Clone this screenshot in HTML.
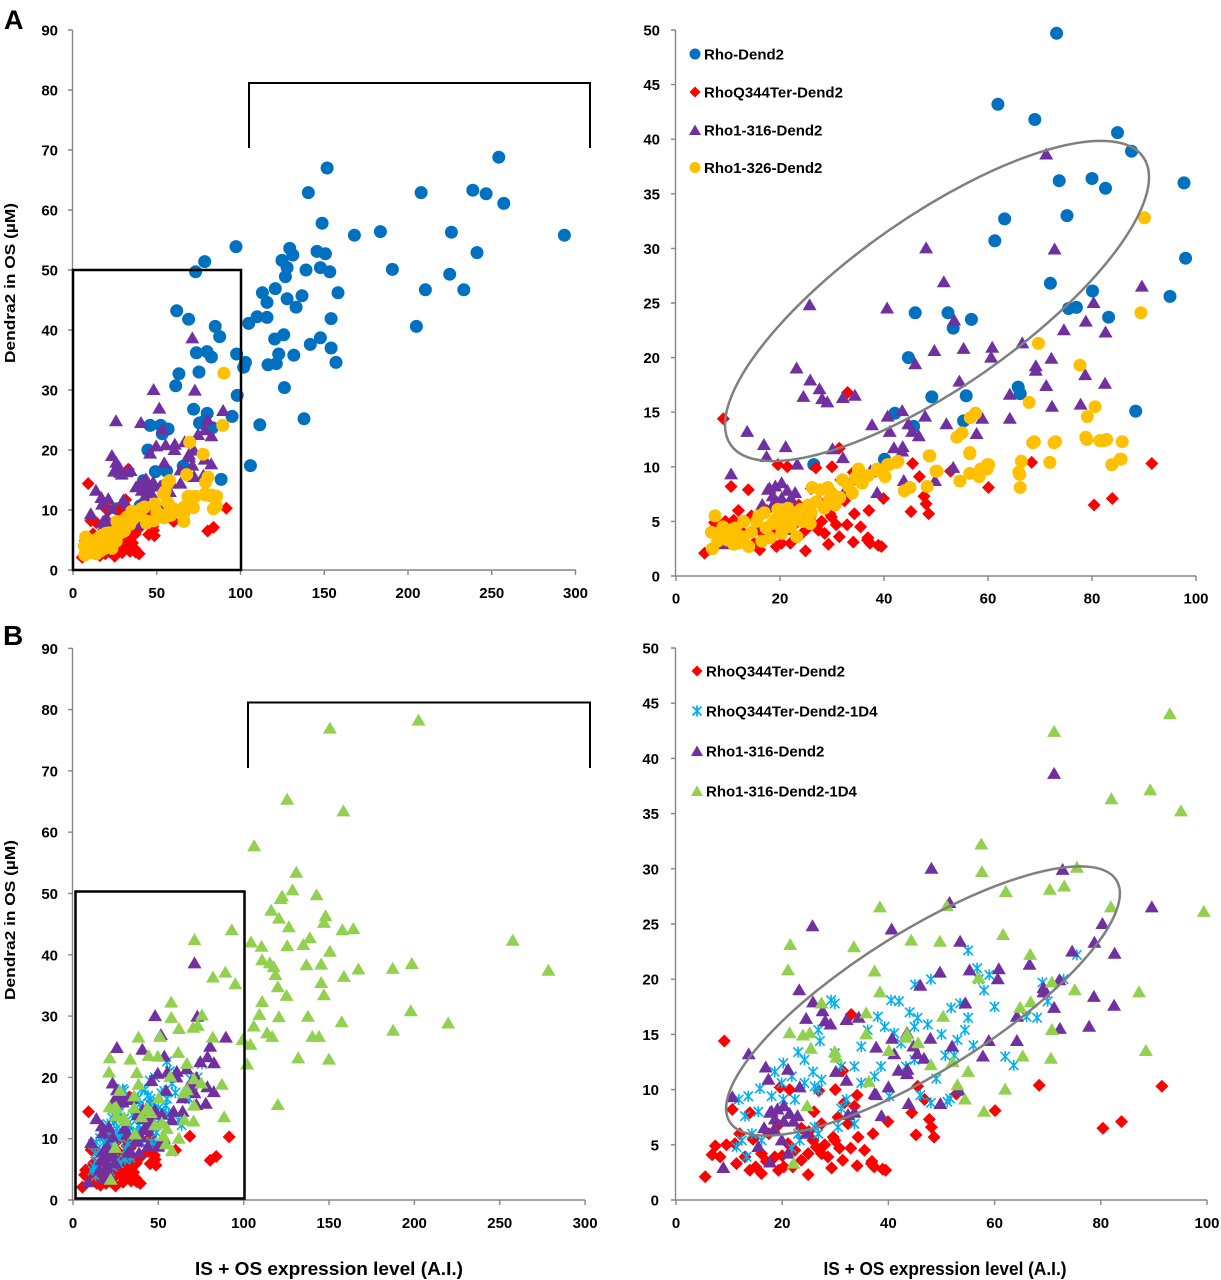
<!DOCTYPE html>
<html><head><meta charset="utf-8">
<style>
html,body{margin:0;padding:0;background:#fff;}
svg{display:block;}
text{font-family:"Liberation Sans",sans-serif;font-weight:bold;fill:#000;}
.t{font-size:15px;}
.ax{stroke:#868686;stroke-width:1.4;fill:none;}
</style></head>
<body>
<svg id="s" width="1221" height="1280" viewBox="0 0 1221 1280" xmlns="http://www.w3.org/2000/svg">
<rect width="1221" height="1280" fill="#fff"/>
<text x="4" y="29" style="font-size:27px">A</text>
<text x="3" y="645" style="font-size:28px">B</text>
<text transform="translate(15,283) rotate(-90)" text-anchor="middle" style="font-size:15px" textLength="160" lengthAdjust="spacingAndGlyphs">Dendra2 in OS (µM)</text>
<text transform="translate(15,920) rotate(-90)" text-anchor="middle" style="font-size:15px" textLength="160" lengthAdjust="spacingAndGlyphs">Dendra2 in OS (µM)</text>
<text x="329" y="1275" text-anchor="middle" style="font-size:18px" textLength="268" lengthAdjust="spacingAndGlyphs">IS + OS expression level (A.I.)</text>
<text x="945" y="1275" text-anchor="middle" style="font-size:18px" textLength="243" lengthAdjust="spacingAndGlyphs">IS + OS expression level (A.I.)</text>

<path class="ax" d="M72.5 30V570H576"/>
<path class="ax" d="M68 570H72.5M68 510H72.5M68 450H72.5M68 390H72.5M68 330H72.5M68 270H72.5M68 210H72.5M68 150H72.5M68 90H72.5M68 30H72.5M73 570V575M156.75 570V575M240.5 570V575M324.25 570V575M408 570V575M491.75 570V575M575.5 570V575"/>
<g class="t" text-anchor="end">
<text x="58" y="575.5">0</text><text x="58" y="515.5">10</text><text x="58" y="455.5">20</text><text x="58" y="395.5">30</text><text x="58" y="335.5">40</text><text x="58" y="275.5">50</text><text x="58" y="215.5">60</text><text x="58" y="155.5">70</text><text x="58" y="95.5">80</text><text x="58" y="35.5">90</text>
</g>
<g class="t" text-anchor="middle">
<text x="73" y="598">0</text><text x="156.75" y="598">50</text><text x="240.5" y="598">100</text><text x="324.25" y="598">150</text><text x="408" y="598">200</text><text x="491.75" y="598">250</text><text x="575.5" y="598">300</text>
</g>

<path class="ax" d="M675.5 30V576H1196"/>
<path class="ax" d="M671 576H675.5M671 521.4H675.5M671 466.8H675.5M671 412.2H675.5M671 357.6H675.5M671 303H675.5M671 248.4H675.5M671 193.8H675.5M671 139.2H675.5M671 84.6H675.5M671 30H675.5M676 576V581M780 576V581M884 576V581M988 576V581M1092 576V581M1196 576V581"/>
<g class="t" text-anchor="end">
<text x="660" y="581.5">0</text><text x="660" y="526.9">5</text><text x="660" y="472.3">10</text><text x="660" y="417.7">15</text><text x="660" y="363.1">20</text><text x="660" y="308.5">25</text><text x="660" y="253.9">30</text><text x="660" y="199.3">35</text><text x="660" y="144.7">40</text><text x="660" y="90.1">45</text><text x="660" y="35.5">50</text>
</g>
<g class="t" text-anchor="middle">
<text x="676" y="603.5">0</text><text x="780" y="603.5">20</text><text x="884" y="603.5">40</text><text x="988" y="603.5">60</text><text x="1092" y="603.5">80</text><text x="1196" y="603.5">100</text>
</g>

<path class="ax" d="M72.5 648.3V1200H585"/>
<path class="ax" d="M68 1200H72.5M68 1138.7H72.5M68 1077.4H72.5M68 1016.1H72.5M68 954.8H72.5M68 893.5H72.5M68 832.2H72.5M68 770.9H72.5M68 709.6H72.5M68 648.3H72.5M73 1200V1205M158.35 1200V1205M243.7 1200V1205M329.05 1200V1205M414.4 1200V1205M499.75 1200V1205M585.1 1200V1205"/>
<g class="t" text-anchor="end">
<text x="58" y="1205.5">0</text><text x="58" y="1144.2">10</text><text x="58" y="1082.9">20</text><text x="58" y="1021.6">30</text><text x="58" y="960.3">40</text><text x="58" y="899">50</text><text x="58" y="837.7">60</text><text x="58" y="776.4">70</text><text x="58" y="715.1">80</text><text x="58" y="653.8">90</text>
</g>
<g class="t" text-anchor="middle">
<text x="73" y="1228">0</text><text x="158.35" y="1228">50</text><text x="243.7" y="1228">100</text><text x="329.05" y="1228">150</text><text x="414.4" y="1228">200</text><text x="499.75" y="1228">250</text><text x="585.1" y="1228">300</text>
</g>

<path class="ax" d="M675.5 648V1200H1207"/>
<path class="ax" d="M671 1200H675.5M671 1144.8H675.5M671 1089.6H675.5M671 1034.4H675.5M671 979.2H675.5M671 924H675.5M671 868.8H675.5M671 813.6H675.5M671 758.4H675.5M671 703.2H675.5M671 648H675.5M676 1200V1205M782.2 1200V1205M888.4 1200V1205M994.6 1200V1205M1100.8 1200V1205M1207 1200V1205"/>
<g class="t" text-anchor="end">
<text x="659" y="1205.5">0</text><text x="659" y="1150.3">5</text><text x="659" y="1095.1">10</text><text x="659" y="1039.9">15</text><text x="659" y="984.7">20</text><text x="659" y="929.5">25</text><text x="659" y="874.3">30</text><text x="659" y="819.1">35</text><text x="659" y="763.9">40</text><text x="659" y="708.7">45</text><text x="659" y="653.5">50</text>
</g>
<g class="t" text-anchor="middle">
<text x="676" y="1228">0</text><text x="782.2" y="1228">20</text><text x="888.4" y="1228">40</text><text x="994.6" y="1228">60</text><text x="1100.8" y="1228">80</text><text x="1207" y="1228">100</text>
</g>

<g id="m"></g>

<rect x="73" y="270" width="168" height="300" fill="none" stroke="#000" stroke-width="2.5"/>
<path d="M249 148V83H590V148" fill="none" stroke="#000" stroke-width="2"/>
<rect x="75.5" y="891.5" width="169" height="307" fill="none" stroke="#000" stroke-width="2.5"/>
<path d="M248 768V702.5H590V768" fill="none" stroke="#000" stroke-width="2"/>
<ellipse cx="937" cy="301" rx="251.5" ry="85.5" transform="rotate(-34.9 937 301)" fill="none" stroke="#7f7f7f" stroke-width="2.5"/>
<ellipse cx="923" cy="1001" rx="228" ry="70" transform="rotate(-32 923 1001)" fill="none" stroke="#7f7f7f" stroke-width="2.5"/>

<circle cx="695" cy="54" r="5.5" fill="#0070C0"/>
<path d="M695 86.5L700.5 92L695 97.5L689.5 92Z" fill="#FF0000"/>
<path d="M695 124.5L701 135L689 135Z" fill="#7030A0"/>
<circle cx="695" cy="167.5" r="5.5" fill="#FFC000"/>
<g style="font-size:15px">
<text x="704" y="59.5">Rho-Dend2</text>
<text x="704" y="97.5">RhoQ344Ter-Dend2</text>
<text x="704" y="135.5">Rho1-316-Dend2</text>
<text x="704" y="173">Rho1-326-Dend2</text>
</g>
<path d="M697 665.5L702.5 671L697 676.5L691.5 671Z" fill="#FF0000"/>
<path d="M697 705.5V716.5M692.5 706.5L701.5 715.5M701.5 706.5L692.5 715.5" stroke="#00B0F0" stroke-width="1.8" fill="none"/>
<path d="M697 745.5L703 756L691 756Z" fill="#7030A0"/>
<path d="M697 785.5L703 796L691 796Z" fill="#92D050"/>
<g style="font-size:15px">
<text x="706" y="676.5">RhoQ344Ter-Dend2</text>
<text x="706" y="716.5">RhoQ344Ter-Dend2-1D4</text>
<text x="706" y="756.5">Rho1-316-Dend2</text>
<text x="706" y="796.5">Rho1-316-Dend2-1D4</text>
</g>
</svg>
<script>
(function(){
var blueR=[[73.2,49.7],[61.9,43.2],[69.0,41.8],[84.9,40.6],[87.6,38.9],[73.7,36.2],[80.0,36.4],[82.6,35.5],[97.7,36.0],[63.2,32.7],[75.2,33.0],[61.3,30.7],[98.0,29.1],[72.0,26.8],[80.1,26.1],[95.0,25.6],[75.5,24.5],[77.0,24.6],[83.2,23.7],[46.0,24.1],[52.3,24.1],[56.8,23.5],[53.3,22.7],[44.7,20.0],[65.8,17.3],[66.2,16.7],[49.2,16.4],[55.8,16.5],[88.4,15.1],[42.1,14.9],[55.3,14.2],[45.7,13.7],[40.1,10.7],[26.5,10.2]];
var blueL=[[151.7,67.0],[140.5,62.9],[254.2,68.8],[207.8,62.9],[238.7,63.3],[246.6,62.7],[257.2,61.1],[148.7,57.8],[168.0,55.8],[183.5,56.4],[225.9,56.3],[293.4,55.8],[97.3,53.9],[129.4,53.6],[131.2,52.5],[145.7,53.1],[150.7,52.7],[241.2,52.9],[78.6,51.4],[124.8,51.6],[127.8,50.4],[126.8,48.9],[139.1,50.0],[147.7,50.4],[153.3,49.7],[190.7,50.1],[224.9,49.3],[210.4,46.7],[233.3,46.7],[158.2,46.2],[113.1,46.2],[120.8,46.9],[115.8,44.6],[127.8,45.2],[136.7,45.7],[133.2,43.8],[104.9,41.1],[109.9,42.2],[115.8,42.1],[154.1,41.9],[205.0,40.6],[120.4,38.5],[125.8,39.2],[147.7,38.7],[141.7,37.6],[154.1,37.0],[157.0,34.6],[131.8,35.8],[122.8,36.0],[116.4,34.2],[121.4,34.4],[102.9,34.6],[101.9,33.8],[126.2,30.4],[111.5,24.2],[137.9,25.2],[105.9,17.4]];
var blue=blueR.concat(blueL);
var red=[[9.1,14.4],[5.5,2.1],[7.4,4.9],[6.8,4.1],[8.3,3.9],[10.6,8.2],[13.9,7.9],[11.1,5.1],[11.4,3.3],[13.9,2.7],[16.1,2.4],[19.3,2.7],[19.6,10.2],[21.4,10.0],[24.9,2.3],[29.3,2.9],[30.0,10.0],[31.4,11.7],[33.0,16.8],[34.1,9.5],[33.6,8.5],[32.4,6.9],[29.9,5.4],[26.4,4.8],[24.9,4.2],[27.4,4.2],[28.6,3.9],[31.4,3.6],[34.1,3.1],[36.8,3.3],[38.9,2.8],[37.1,6.0],[32.9,4.7],[34.3,5.7],[27.4,6.9],[23.6,6.5],[19.3,6.8],[21.1,5.1],[22.4,4.5],[18.6,3.9],[16.1,4.2],[13.0,3.9],[39.9,7.1],[44.4,7.9],[45.5,10.3],[46.8,9.1],[45.2,5.9],[47.7,7.3],[48.1,6.6],[48.6,5.7],[29.6,5.7],[30.8,4.7],[25.8,5.4],[23.6,3.6],[26.9,9.9],[31.7,8.8],[20.3,3.0],[17,3.5],[36.9,3.5],[37.3,3.0],[39.5,2.7],[52.8,9.6],[60.1,8.1],[68.4,10.4],[80.4,6.5],[83.9,7.1],[91.5,10.3],[14.5,5.5],[17.5,6],[20,4],[22,3],[25,6.2],[28,5],[15,3],[12,6],[9.5,5],[26,8],[35.5,4.5],[30.5,7.5]];
var purple=[[71.2,38.6],[48.1,30.0],[72.8,29.9],[51.5,26.9],[89.6,26.5],[25.7,24.8],[40.6,24.5],[53.5,23.4],[80.3,25.0],[78.8,23.3],[74.6,22.5],[82.6,22.3],[49.7,20.6],[55.3,20.8],[60.8,20.9],[60.6,20.0],[66.6,21.3],[69.2,19.2],[69.2,18.8],[72.2,19.9],[46.0,19.4],[23.2,19.0],[25.8,17.9],[27.6,17.1],[24.5,16.4],[28.1,16.2],[29.1,15.9],[32.1,16.3],[34.4,16.5],[54.5,17.8],[71.2,17.4],[78.7,18.4],[82.5,17.6],[64.2,16.6],[72.3,15.5],[77.8,15.7],[64.2,14.4],[58.9,14.4],[52.0,13.9],[47.9,14.6],[43.5,15.1],[40.7,14.6],[37.7,13.8],[41.1,13.2],[44.7,13.9],[45.4,13.2],[46.7,12.8],[57.8,13.0],[13.7,13.2],[16.9,12.0],[21.1,11.8],[30.1,11.6],[41.9,11.7],[43.5,11.4],[32.1,10.8],[23.3,10.2],[17.4,10.9],[10.6,9.3],[53.3,9.9],[37.4,9.6],[17.7,7.9],[19.1,8.2],[20.3,8.5],[21.4,7.8],[22.9,7.6],[22.1,7.1],[16.6,6.5],[18.5,6.4],[20.3,7.1],[38.7,7.6],[43.8,8.7],[49.8,8.7],[18.6,7.3],[19.9,5.4],[21.1,4.2],[15.5,4.8],[17.7,3.4],[8.9,2.9],[32.4,7.7],[33.6,7.9],[24.6,6.0],[18.0,8.0],[37.7,9.5],[40.0,10.2],[43.6,11.8]];
var yellow=[[90.1,32.8],[89.4,24.1],[69.7,21.3],[77.7,19.3],[67.9,15.9],[80.6,15.5],[79.1,14.6],[57.6,14.9],[56.6,14.5],[55.0,13.1],[54.0,12.7],[68.9,12.3],[73.0,12.3],[78.8,12.7],[81.5,12.4],[82.8,12.5],[85.8,12.3],[56.5,11.2],[85.4,10.7],[83.8,10.2],[66.4,10.5],[71.9,10.4],[48.7,11.0],[50.0,9.6],[59.9,10.2],[58.6,9.8],[65.9,9.5],[42.7,10.5],[40.7,10.2],[38.7,9.8],[35.1,9.8],[7.5,5.5],[7.0,2.5],[8.9,3.9],[9.9,3.3],[11.1,2.9],[11.4,4.4],[12.9,3.6],[14.0,2.7],[15.5,5.0],[15.9,5.5],[17.3,4.4],[18.1,3.5],[19.2,5.2],[19.6,6.1],[20.3,3.9],[21.0,5.5],[22.1,4.5],[23.2,5.2],[24.0,6.1],[25.5,6.5],[26.2,8.1],[27.7,7.9],[29.2,8.1],[29.5,7.0],[30.6,6.5],[25.8,4.8],[23.2,3.6],[33.2,8.2],[35.1,9.6],[35.8,8.5],[33.9,7.6],[39.1,9.6],[40.2,9.1],[41.0,10.2],[42.4,10.4],[43.9,7.8],[45.0,8.1],[48.3,8.2],[48.8,11.0],[50.2,9.6],[54.6,8.7],[56.5,11.3],[56.5,9.4],[58.3,9.1],[59.8,9.8],[60.1,10.2],[66.1,9.3],[66.2,8.1],[68.6,12.2],[72.7,12.2],[79.0,12.5],[82.3,12.4],[85.6,10.7],[9,4.5],[10.5,3.8],[13,5],[14.5,4],[16.5,3.2],[17,5.8],[18.5,4.8],[20,4.8],[21.5,6.2],[22.5,5.8],[24.5,5],[26,5.8],[27,6.8],[28.5,6.2],[30,7.5],[31.5,7.2],[32,8.8],[34.5,9],[37,9.2],[8,3.2],[12,3],[6.8,4]];
var green=[[150.5,76.9],[202.4,78.2],[125.5,65.3],[158.4,63.4],[106.1,57.7],[130.8,53.4],[128.6,50.5],[122.5,49.5],[121.6,49.1],[142.7,49.7],[116.1,47.2],[120.6,45.9],[148,46.3],[147,45.2],[126.4,44.5],[157.8,44],[164.2,44.2],[257.6,42.3],[278.5,37.4],[104.3,42],[110.4,41.3],[125.5,41.4],[134.9,41.6],[138.8,42.7],[150.5,40.5],[110.8,39.1],[115.3,38.6],[117.6,38.0],[136.8,38.3],[145.4,38.4],[118.6,36.7],[145.4,35.4],[158.7,36.4],[167.2,37.6],[187.3,37.7],[198.5,38.5],[120,34.7],[125.1,33.3],[147,33.4],[110.8,32.3],[109.2,30.2],[120.6,29.8],[137.6,29.9],[105.9,28.3],[113.7,27.2],[116.7,26.6],[140.2,26.6],[144.1,26.6],[157.4,29],[187.5,27.6],[197.9,30.8],[219.8,28.8],[103.9,25.3],[102,22.1],[131.9,23.1],[149.9,22.9],[120,15.5],
[93,44],[71.2,42.4],[89.3,37.1],[95.1,35.2],[82,36.3],[99.4,26.1],[88.5,13.5],[87.2,18.8],[81.9,26.5],[75.5,30.1],[73.1,28.4],[70.4,28.1],[62.1,27.9],[57.6,29.7],[51,26.6],[38.4,26.5],[44.3,23.5],[33.5,22.9],[49.7,23.4],[61.6,24],[66.7,22.2],[70.8,19.7],[75.1,19],[70.8,15.4],[65.3,13],[55,11.6],[54.4,9.1],[50.3,16.6],[45.6,14.2],[38.4,18.8],[35.8,15],[29.9,13.4],[21.5,23.1],[21.1,20.8],[36.3,10.7],[22.1,3.3],[21.4,15.1],[23.9,14.9],[25.2,15.1],[25.4,13.7],[30.2,12.9],[27.4,17.8],[35.8,16.9],[43.5,15.0],[40.1,13.5],[48,12.2],[53,10.4],[24.7,8.5],[57.5,32.2],[66.8,17.9],[37.4,20.7],[57,20.1],[43.3,14.7],[52.1,12.5],[70.6,12.8],[64.8,17.4],[58,8],[62,10]];
var cyan=[[26.8,15.4],[27.1,14.4],[23,13.4],[20.2,12.4],[18.6,11.6],[15.8,10.1],[13.6,9.4],[11.8,9.1],[15.5,8.0],[13,7.6],[11.4,4.8],[13.3,3.9],[12.4,5.4],[14.3,6.0],[16.1,5.4],[22.4,9.1],[24.2,10.6],[26.1,10.3],[26.8,10.0],[27.4,10.9],[29.9,13.3],[31.1,12.1],[33.6,12.1],[34.9,13.9],[36.1,15.4],[38,16.6],[39.3,15.7],[41.1,15.1],[42.4,14.2],[44.9,15.7],[45.5,16.5],[47.4,15.9],[44.9,12.7],[43.3,12.1],[38.6,12.1],[37.4,11.2],[34.9,10.6],[32.1,9.1],[31.1,8.3],[33.6,6.9],[30.5,6.6],[26.1,6.6],[23,6.0],[29.9,17.8],[29.2,18.1],[40.5,18.1],[51.8,17.4],[52.4,13.1],[51.1,8.9],[48,8.8],[40.2,9.4],[26.8,6],[20.2,9.1],[18,9.4],[19.9,10.6],[21.8,11.2],[25.8,11.6],[24.2,12.7],[23.3,5.4],[21.8,4.7],[55,22.6],[56.7,21],[59,20.4],[53.5,17.8],[54.4,15.4],[50.7,13.1],[63.6,12.2],[51.6,9.2],[58,19],[60,17.5],[66,16.6],[68,16.5],[69,19.7],[73,20],[75.5,22.2],[56,14],[48,20],[45,19.5],[42,18],[44,17],[50,15],[53,14.5],[55,16.5],[57,20],[49,11],[46,9.5],[62,13],[70,18]];

var P={
 AL:{x0:73,sx:1.675,y0:570,sy:6,xm:300,ym:90},
 AR:{x0:676,sx:5.2,y0:576,sy:10.92,xm:100,ym:50},
 BL:{x0:73,sx:1.707,y0:1200,sy:6.13,xm:300,ym:90},
 BR:{x0:676,sx:5.31,y0:1200,sy:11.04,xm:100,ym:50}
};
function f(n){return Math.round(n*10)/10;}
function mark(t,x,y){
 x=f(x);y=f(y);
 if(t=='c')return '<circle cx="'+x+'" cy="'+y+'" r="6.5" fill="#0070C0"/>';
 if(t=='y')return '<circle cx="'+x+'" cy="'+y+'" r="6.5" fill="#FFC000"/>';
 if(t=='d')return '<path d="M'+x+' '+f(y-6.5)+'L'+f(x+6.5)+' '+y+'L'+x+' '+f(y+6.5)+'L'+f(x-6.5)+' '+y+'Z" fill="#FF0000"/>';
 if(t=='p'||t=='g')return '<path d="M'+x+' '+f(y-7)+'L'+f(x+7)+' '+f(y+5)+'L'+f(x-7)+' '+f(y+5)+'Z" fill="'+(t=='p'?'#7030A0':'#92D050')+'"/>';
 if(t=='a')return '<path d="M'+x+' '+f(y-5.5)+'V'+f(y+5.5)+'M'+f(x-4.7)+' '+f(y-4.7)+'L'+f(x+4.7)+' '+f(y+4.7)+'M'+f(x+4.7)+' '+f(y-4.7)+'L'+f(x-4.7)+' '+f(y+4.7)+'" stroke="#00B0F0" stroke-width="1.6" fill="none"/>';
 return '';
}
function series(p,data,t){
 var s='';
 for(var i=0;i<data.length;i++){
  var d=data[i];
  if(d[0]<0||d[0]>p.xm||d[1]<0||d[1]>p.ym)continue;
  s+=mark(t,p.x0+d[0]*p.sx,p.y0-d[1]*p.sy);
 }
 return s;
}
var out='';
['AL','AR'].forEach(function(k){var p=P[k];
 out+=series(p,blue,'c')+series(p,red,'d')+series(p,purple,'p')+series(p,yellow,'y');});
['BL','BR'].forEach(function(k){var p=P[k];
 out+=series(p,red,'d')+series(p,cyan,'a')+series(p,purple,'p')+series(p,green,'g');});
document.getElementById('m').innerHTML=out;
})();
</script>
</body></html>
